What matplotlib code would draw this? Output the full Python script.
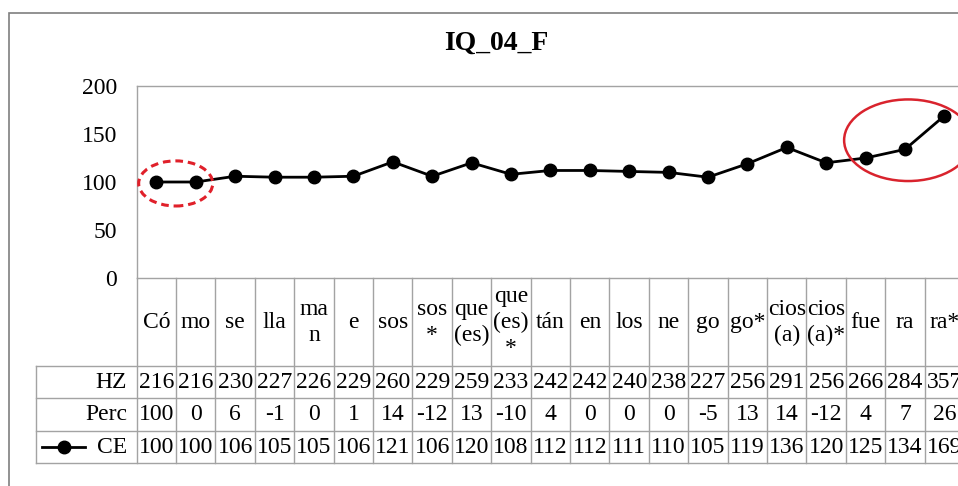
import matplotlib
matplotlib.use("Agg")
import matplotlib.pyplot as plt
from matplotlib.patches import Ellipse, Rectangle

# ---- data ----
syllables = ["Có", "mo", "se", "lla", "ma\nn", "e", "sos", "sos\n*", "que\n(es)",
             "que\n(es)\n*", "tán", "en", "los", "ne", "go", "go*", "cios\n(a)",
             "cios\n(a)*", "fue", "ra", "ra*"]
hz = [216, 216, 230, 227, 226, 229, 260, 229, 259, 233, 242, 242, 240, 238, 227,
      256, 291, 256, 266, 284, 357]
perc = [100, 0, 6, -1, 0, 1, 14, -12, 13, -10, 4, 0, 0, 0, -5, 13, 14, -12, 4, 7, 26]
ce = [100, 100, 106, 105, 105, 106, 121, 106, 120, 108, 112, 112, 111, 110, 105,
      119, 136, 120, 125, 134, 169]
row_names = ["HZ", "Perc", "CE"]
yticks = [0, 50, 100, 150, 200]
title = "IQ_04_F"

plt.rcParams["font.family"] = ["Liberation Serif", "DejaVu Serif"]

W, H = 958, 486
fig = plt.figure(figsize=(W / 100, H / 100), dpi=100)

# layout in pixels
px_left, px_col = 136.7, 39.4
n = len(ce)
px_right = px_left + n * px_col
px_top, px_axis = 86, 278
row_edges = [278, 365.7, 398.3, 431, 463.3]
px_leg_left = 36


def fx(x):
    return x / W


def fy(y):
    return 1 - y / H


fs = 17
grid_c = "#a3a3a3"

ax = fig.add_axes([fx(px_left), fy(px_axis), fx(px_right - px_left),
                   fy(px_top) - fy(px_axis)])
ax.set_xlim(-0.5, n - 0.5)
ax.set_ylim(0, 200)
ax.set_yticks(yticks)
ax.set_yticklabels([str(t) for t in yticks], fontsize=fs)
ax.tick_params(axis="y", length=0, pad=14)
ax.set_xticks([])
for s in ax.spines.values():
    s.set_color(grid_c)
    s.set_linewidth(1.0)
ax.spines["bottom"].set_visible(False)

xs = list(range(n))
ax.plot(xs, ce, color="black", lw=2.0, marker="o", ms=9, mfc="black", mec="black",
        clip_on=False, zorder=3)

# highlight ellipses
ax.add_patch(Ellipse((0.49, 98.5), 1.88, 47, fill=False, ec="#e0202a", lw=2.2,
                     ls=(0, (2.5, 1.6)), zorder=4))
ax.add_patch(Ellipse((19.08, 143.5), 3.25, 85, fill=False, ec="#d9232d", lw=1.8,
                     clip_on=False, zorder=4))

# data table below the plot
tab_h = row_edges[-1] - row_edges[0]
tab = fig.add_axes([fx(px_left), fy(row_edges[-1]), fx(px_right - px_left),
                    fy(row_edges[0]) - fy(row_edges[-1])])
tab.set_xlim(-0.5, n - 0.5)
tab.set_ylim(tab_h, 0)
tab.axis("off")
ry = [r - row_edges[0] for r in row_edges]
x_leg = (px_leg_left - px_left) / px_col - 0.5

# column separators
for i in range(n + 1):
    tab.plot([i - 0.5, i - 0.5], [0, ry[-1]], color=grid_c, lw=1.0, clip_on=False)
# row separators
tab.plot([-0.5, n - 0.5], [0, 0], color=grid_c, lw=1.0, clip_on=False)
for y in ry[1:]:
    tab.plot([x_leg, n - 0.5], [y, y], color=grid_c, lw=1.0, clip_on=False)
tab.plot([x_leg, x_leg], [ry[1], ry[-1]], color=grid_c, lw=1.0, clip_on=False)

for i, h in enumerate(syllables):
    tab.text(i, (ry[0] + ry[1]) / 2 + 1, h, ha="center", va="center", fontsize=fs,
             linespacing=1.3, clip_on=False)
for r, vals in enumerate([hz, perc, ce]):
    yc = (ry[r + 1] + ry[r + 2]) / 2
    for i, v in enumerate(vals):
        tab.text(i, yc, str(v), ha="center", va="center", fontsize=fs, clip_on=False)
    tab.text(-0.5 - 9.5 / px_col, yc, row_names[r], ha="right", va="center",
             fontsize=fs, clip_on=False)

# legend key for the CE row
yc = (ry[3] + ry[4]) / 2
kx0 = (42 - px_left) / px_col - 0.5
kx1 = (85 - px_left) / px_col - 0.5
tab.plot([kx0, kx1], [yc, yc], color="black", lw=2.0, clip_on=False)
tab.plot([(kx0 + kx1) / 2], [yc], marker="o", ms=9, color="black", clip_on=False)

# title and outer chart border
fig.text(fx(496), fy(43), title, ha="center", va="center", fontsize=20,
         fontweight="bold")
fig.add_artist(Rectangle((fx(9.3), fy(600)), 2, fy(13.3) - fy(600), fill=False,
                         ec="#7f7f7f", lw=1.2, transform=fig.transFigure))

fig.savefig("out.png", dpi=100)
